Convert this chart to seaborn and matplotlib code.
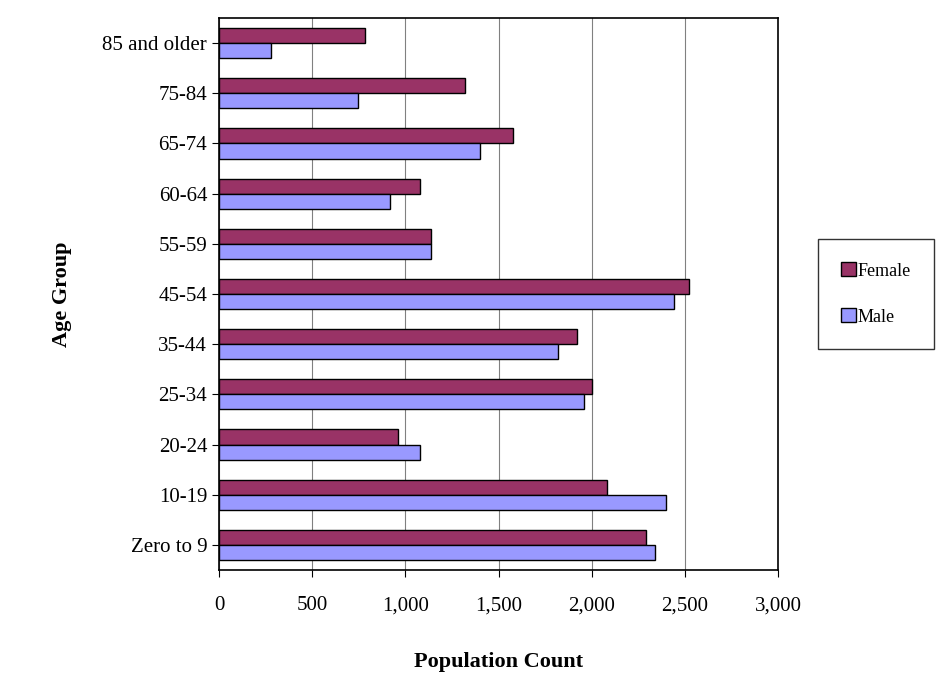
import seaborn as sns
import matplotlib.pyplot as plt
import pandas as pd

# values
age_groups = ["85 and older", "75-84", "65-74", "60-64", "55-59", "45-54",
              "35-44", "25-34", "20-24", "10-19", "Zero to 9"]
female = [785, 1320, 1580, 1080, 1140, 2520, 1920, 2000, 960, 2080, 2290]
male = [280, 745, 1400, 920, 1140, 2440, 1820, 1960, 1080, 2400, 2340]

df = pd.DataFrame({"Age Group": age_groups * 2,
                   "Count": female + male,
                   "Sex": ["Female"] * len(age_groups) + ["Male"] * len(age_groups)})

sns.set_style("white")
plt.rcParams['font.family'] = ['Liberation Serif', 'DejaVu Serif']
plt.rcParams['text.color'] = 'black'
plt.rcParams['axes.labelcolor'] = 'black'
plt.rcParams['xtick.color'] = 'black'
plt.rcParams['ytick.color'] = 'black'

fig = plt.figure(figsize=(9.39, 6.77), dpi=100)
ax = fig.add_axes([219/939, 1 - 570/677, (778-219)/939, (570-18)/677])
sns.barplot(data=df, y="Age Group", x="Count", hue="Sex", order=age_groups,
            palette={"Female": "#993366", "Male": "#9999FF"}, saturation=1,
            edgecolor="black", linewidth=1, width=0.6, ax=ax, legend=True)

ax.set_xlim(0, 3000)
ax.set_xticks(range(0, 3001, 500))
ax.set_xticklabels([f"{v:,}" for v in range(0, 3001, 500)], fontsize=15)
ax.tick_params(axis='y', labelsize=15)
ax.xaxis.grid(True, color="#808080", linewidth=0.8)
ax.set_axisbelow(True)
for s in ax.spines.values():
    s.set_color("black")
    s.set_linewidth(1.2)
ax.tick_params(axis='both', direction='out', length=5, color='black', bottom=True, left=True)
ax.tick_params(axis='x', pad=14)
ax.set_xlabel("Population Count", fontsize=16, fontweight="bold", labelpad=26)
ax.set_ylabel("Age Group", fontsize=16, fontweight="bold", labelpad=22)

ax.legend(title=None, loc="center left", bbox_to_anchor=(1.055, 0.5), fontsize=13,
          frameon=True, fancybox=False, edgecolor="black", handlelength=0.8,
          handleheight=0.8, labelspacing=1.6, borderpad=1.3, handletextpad=0.1)

fig.savefig("out.png", dpi=100)
